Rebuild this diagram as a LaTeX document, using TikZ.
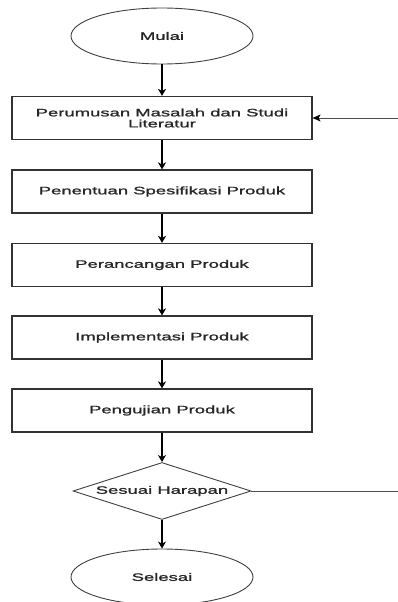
\documentclass[tikz,border=0pt]{standalone}
\usepackage{fontspec}
\setmainfont[FakeStretch=1.71, FakeBold=1.4]{Liberation Sans}
\usetikzlibrary{shapes.geometric,arrows.meta}
\begin{document}
\begin{tikzpicture}[x=1pt, y=-1pt,
  every node/.style={font=\fontsize{10.8}{11}\selectfont, text=black!85},
  proses/.style={draw=black!80, line width=1.2pt, minimum width=300pt, minimum height=43pt, inner sep=0pt, align=center},
  terminal/.style={ellipse, draw=black!75, line width=.9pt, minimum width=182pt, minimum height=56pt, inner sep=0pt},
  keputusan/.style={diamond, aspect=3.12, draw=black!75, line width=.9pt, minimum width=178pt, minimum height=57pt, inner sep=0pt},
  panah/.style={-{Stealth[length=7pt, width=8pt, inset=2pt]}, line width=1.3pt},
  balik/.style={draw=black!70, line width=.9pt}]
  \useasboundingbox (0,0) rectangle (398,602);
  \coordinate (R1) at (398,118); \coordinate (R2) at (398,491);
  \node[terminal] (mulai) at (162,36) {Mulai};
  \node[proses] (studi) at (162,118) {Perumusan Masalah dan Studi\\Literatur};
  \node[proses] (spek) at (162,191.5) {Penentuan Spesifikasi Produk};
  \node[proses] (rancang) at (162,265) {Perancangan Produk};
  \node[proses] (impl) at (162,337.5) {Implementasi Produk};
  \node[proses] (uji) at (162,410.5) {Pengujian Produk};
  \node[keputusan] (sesuai) at (162,491) {Sesuai Harapan};
  \node[terminal] (selesai) at (162,577) {Selesai};
  \draw[panah] (mulai)--(studi);
  \draw[panah] (studi)--(spek);
  \draw[panah] (spek)--(rancang);
  \draw[panah] (rancang)--(impl);
  \draw[panah] (impl)--(uji);
  \draw[panah] (uji)--(sesuai);
  \draw[panah] (sesuai)--(selesai);
  \draw[balik] (sesuai.east)--(R2);
  \draw[balik, -{Stealth[length=8pt, width=7pt, inset=2pt, black]}] (R1)--(studi.east);
\end{tikzpicture}
\end{document}
